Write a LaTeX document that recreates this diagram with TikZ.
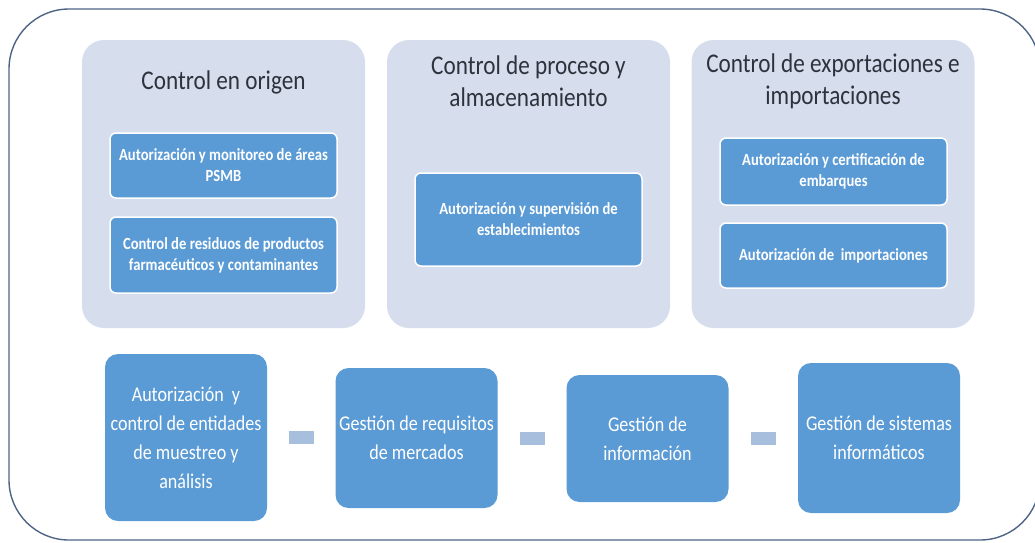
\documentclass[tikz,border=0pt]{standalone}
\usepackage{fontspec}
\setmainfont{Carlito}[FakeStretch=0.86]
\usetikzlibrary{positioning}
\definecolor{frameblue}{RGB}{78,100,132}
\definecolor{panelblue}{RGB}{214,222,238}
\definecolor{boxblue}{RGB}{91,155,213}
\definecolor{barblue}{RGB}{168,190,221}
\definecolor{titlegray}{RGB}{45,50,60}

\begin{document}
\begin{tikzpicture}[x=1pt, y=-1pt,
  frameline/.style={draw=frameblue, line width=1.4pt, rounded corners=60pt},
  panel/.style={fill=panelblue, rounded corners=22pt, minimum width=283pt, minimum height=288pt, inner sep=0pt},
  paneltitle/.style={text=titlegray, align=center, font=\fontsize{27}{32}\selectfont},
  item/.style={fill=boxblue, draw=white, line width=1.5pt, rounded corners=6pt, minimum width=227pt,
    minimum height=#1, text=white, align=center, inner sep=2pt, font=\bfseries\fontsize{17}{21}\selectfont},
  item/.default=65pt,
  task/.style={fill=boxblue, rounded corners=13pt, minimum width=162pt, minimum height=#1,
    text=white, align=center, inner sep=2pt, font=\fontsize{21}{29}\selectfont},
  sepbar/.style={fill=barblue, minimum width=25pt, minimum height=13pt, inner sep=0pt}]
\useasboundingbox (0,0) rectangle (1035,542);

% outer frame
\draw [frameline] (9,9) rectangle (1040,540);

% panels
\node [panel] (origen) at (223.5,184) {};
\node [panel] (proceso) at (528.5,184) {};
\node [panel] (comercio) at (833,184) {};

\node [paneltitle] (origent) at (223.5,82) {Control en origen};
\node [paneltitle] (procesot) at (528.5,81) {Control de proceso y\\almacenamiento};
\node [paneltitle] (comerciot) at (833,81) {Control de exportaciones e\\importaciones};

% boxes inside panels
\node [item] (psmb) at (223.5,165.5) {Autorización y monitoreo de áreas\\PSMB};
\node [item=76pt] (residuos) at (223.5,255) {Control de residuos de productos\\farmacéuticos y contaminantes};
\node [item=93pt] (estab) at (528.5,219.5) {Autorización y supervisión de\\establecimientos};
\node [item=67pt] (embarques) at (833.5,171.5) {Autorización y certificación de\\embarques};
\node [item] (import) at (833.5,255.5) {Autorización de~ importaciones};

% bottom row
\node [task=167pt] (entidades) at (186,437.5) {Autorización~ y\\control de entidades\\de muestreo y\\análisis};
\node [task=140pt] (mercados) at (416.5,438) {Gestión de requisitos\\de mercados};
\node [task=127pt] (info) at (647.5,438.5) {Gestión de\\información};
\node [task=150pt] (sistemas) at (879,438) {Gestión de sistemas\\informáticos};

\path (entidades) -- (mercados) node [midway, sepbar] (bar1) {};
\path (mercados) -- (info) node [midway, sepbar] (bar2) {};
\path (info) -- (sistemas) node [midway, sepbar] (bar3) {};
\end{tikzpicture}
\end{document}
